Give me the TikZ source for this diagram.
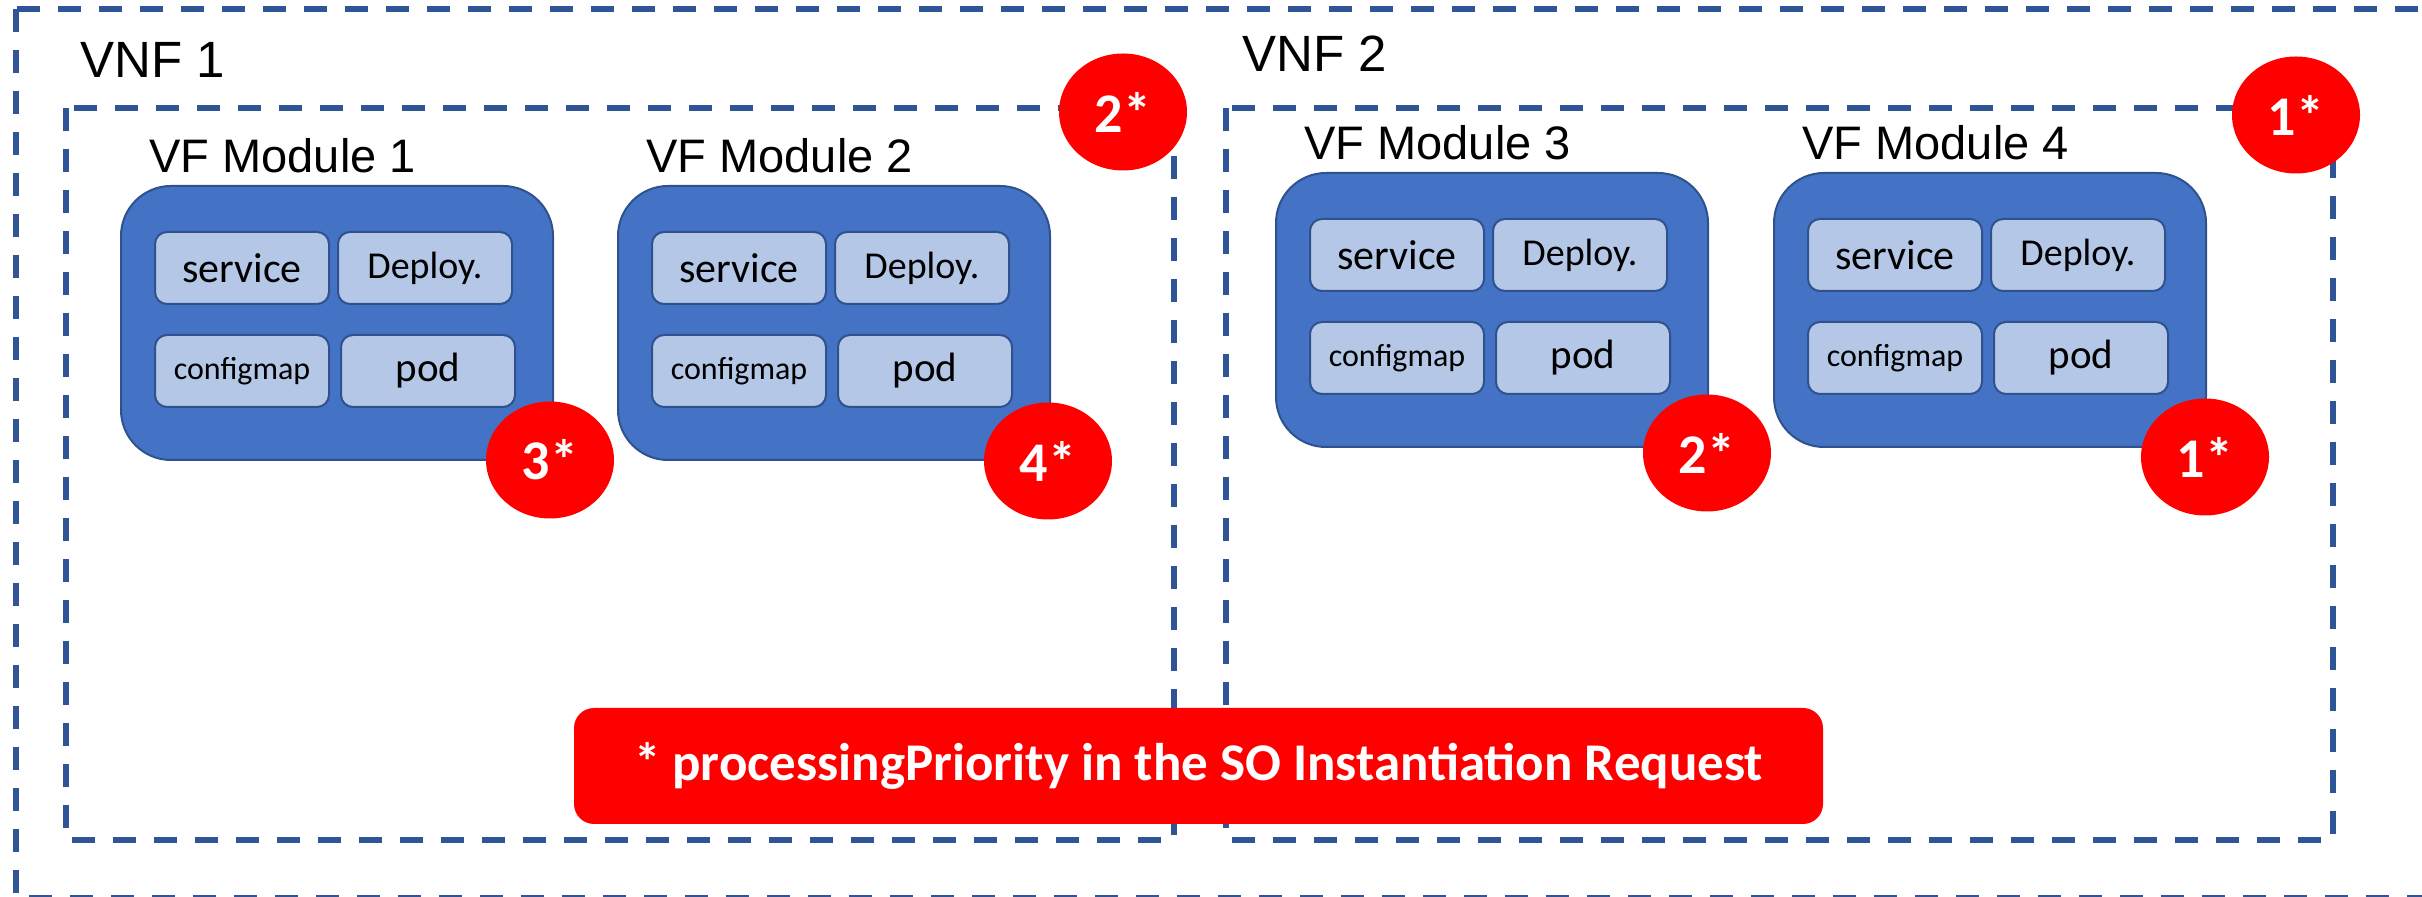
\documentclass[tikz,border=0pt]{standalone}
\usepackage{fontspec}
\setmainfont{Carlito}
\newfontfamily\arialfont{Liberation Sans}
\usepackage{tikz}
\usetikzlibrary{shapes.geometric}
\usepackage{xcolor}
\definecolor{framecol}{HTML}{2F5597}
\definecolor{modfill}{HTML}{4472C4}
\definecolor{modedge}{HTML}{2F528F}
\definecolor{cellfill}{HTML}{B4C7E7}
\definecolor{prio}{HTML}{FF0000}

\begin{document}
\begin{tikzpicture}[x=0.5pt, y=-0.5pt,
    frame/.style={draw=framecol, line width=2.75pt, dash pattern=on 11.5pt off 9pt},
    vnflabel/.style={anchor=base west, inner sep=0pt, font=\arialfont\fontsize{25.5}{25.5}\selectfont},
    modlabel/.style={anchor=base west, inner sep=0pt, font=\arialfont\fontsize{23.5}{23.5}\selectfont},
    module/.style={draw=modedge, line width=1pt, fill=modfill, rounded corners=25pt,
        minimum width=216pt, minimum height=137pt, inner sep=0pt},
    cell/.style={draw=modedge, line width=1pt, fill=cellfill, rounded corners=6pt,
        minimum width=87pt, minimum height=36pt, inner sep=0pt},
    badge/.style={ellipse, fill=prio, text=white, inner sep=0pt,
        minimum width=64pt, minimum height=58.5pt, font=\bfseries\fontsize{28}{28}\selectfont},
    note/.style={fill=prio, text=white, rounded corners=10pt, inner sep=0pt,
        minimum width=624.5pt, minimum height=58pt, font=\bfseries\fontsize{26.5}{26.5}\selectfont}]
        \clip (0,0) rectangle (2422,897);
        % Frames
        \draw[frame] (16,9) rectangle (2460,898);
        \draw[frame] (66,108) rectangle (1174,840);
        \draw[frame] (1226,108) rectangle (2333,840);
        \node[vnflabel] (vnfA) at (80,78) {VNF 1};
        \node[vnflabel] (vnfB) at (1242,72) {VNF 2};
        % Modules
        \foreach \i/\mx/\my in {1/121/186, 2/618/186, 3/1276/173, 4/1774/173} {
            \node[modlabel] (l\i) at (\mx+28,\my-13) {VF Module \i};
            \node[module] (m\i) at (\mx+216,\my+137) {};
            \node[cell, font=\fontsize{21}{21}\selectfont] (s\i) at (\mx+121,\my+82) {service};
            \node[cell, font=\fontsize{19}{19}\selectfont] (d\i) at (\mx+304,\my+82) {Deploy.};
            \node[cell, font=\fontsize{16}{16}\selectfont] (c\i) at (\mx+121,\my+185) {configmap};
            \node[cell, font=\fontsize{20.5}{20.5}\selectfont] (p\i) at (\mx+307,\my+185) {pod};
        }
        % Priorities
        \node[badge] (b1) at (550,460) {3*};
        \node[badge] (b2) at (1048,461) {4*};
        \node[badge] (b3) at (1707,453) {2*};
        \node[badge] (b4) at (2205,457) {1*};
        \node[badge] (vA) at (1123,112) {2*};
        \node[badge] (vB) at (2296,115) {1*};
        \node[note] (req) at (1198.5,766) {* processingPriority in the SO Instantiation Request};
    \end{tikzpicture}
\end{document}
